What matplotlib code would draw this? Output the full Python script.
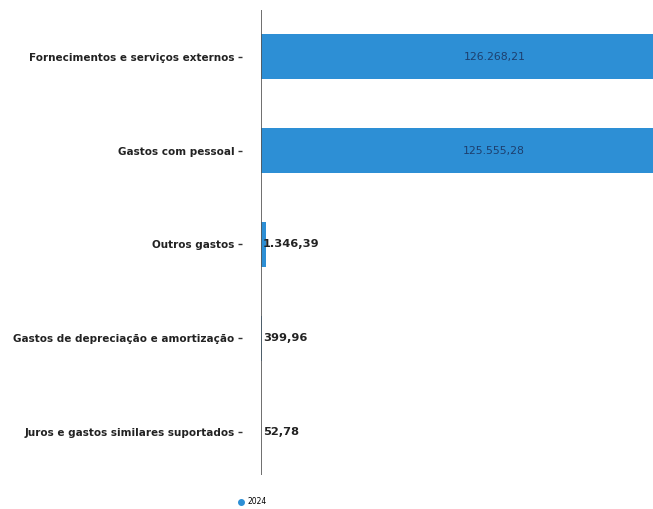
import matplotlib
matplotlib.use("Agg")
import matplotlib.pyplot as plt
from matplotlib.lines import Line2D

categories = [
    "Fornecimentos e serviços externos",
    "Gastos com pessoal",
    "Outros gastos",
    "Gastos de depreciação e amortização",
    "Juros e gastos similares suportados",
]
values = [126268.21, 125555.28, 1346.39, 399.96, 52.78]
value_labels = ["126.268,21", "125.555,28", "1.346,39", "399,96", "52,78"]
series_name = "2024"

bar_color = "#2d8fd5"

fig = plt.figure(figsize=(6.53, 5.09), dpi=100)
W, H = 653, 509
left_px, right_px, top_px, bottom_px = 261, 729, 10, 475
ax = fig.add_axes([left_px / W, 1 - bottom_px / H,
                   (right_px - left_px) / W, (bottom_px - top_px) / H])

ypos = list(range(len(categories)))
bars = ax.barh(ypos, values, height=0.48, color=bar_color, zorder=2)

for s in ["top", "right", "bottom"]:
    ax.spines[s].set_visible(False)
ax.spines["left"].set_position(("outward", 14))
ax.spines["left"].set_visible(False)

ax.set_xlim(0, max(values))
ax.set_ylim(len(categories) - 0.54, -0.5)

ax.set_yticks(ypos)
ax.set_yticklabels(categories, fontsize=7.5, fontweight="bold", color="#222222")
ax.set_xticks([])
ax.tick_params(axis="y", length=3.0, width=1.0, color="#333333", pad=2)
ax.axvline(0, color="#555555", lw=1.2, zorder=3)

threshold = max(values) * 0.2
for b, v, lab in zip(bars, values, value_labels):
    yc = b.get_y() + b.get_height() / 2
    if v > threshold:
        ax.text(v / 2, yc, lab, ha="center", va="center", fontsize=7.8,
                color="#1d3f6e", zorder=4)
    else:
        ax.annotate(lab, (0, yc), xytext=(1.5, 0), textcoords="offset points",
                    ha="left", va="center", fontsize=8.2, fontweight="bold",
                    color="#222222", zorder=4)

handle = Line2D([], [], marker="o", linestyle="", color=bar_color, markersize=4)
fig.legend([handle], [series_name], loc="center", bbox_to_anchor=(252 / W, 1 - 502 / H),
           frameon=False, fontsize=5.5, handletextpad=0.3, borderpad=0,
           handlelength=1.0)

fig.savefig("out.png", dpi=100)
